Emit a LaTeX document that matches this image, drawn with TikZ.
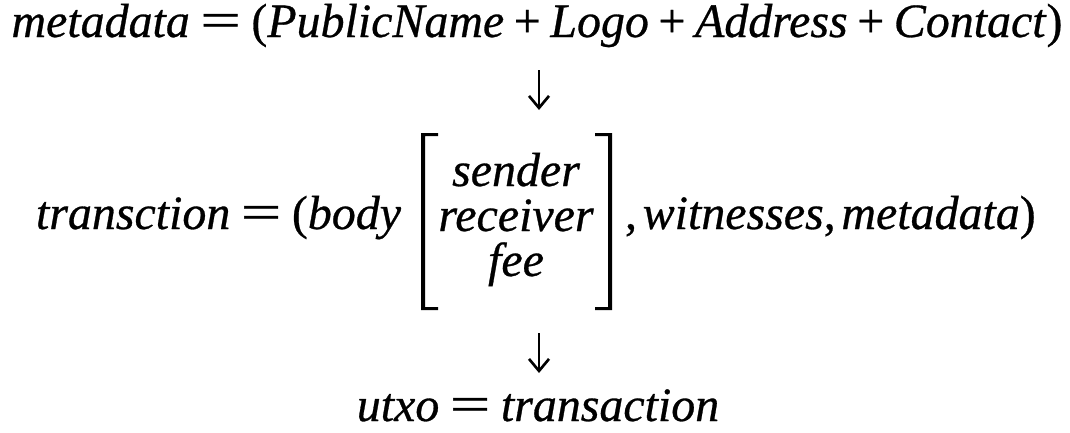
\documentclass[tikz,border=0pt]{standalone}
\usepackage{fontspec}
\setmainfont{Liberation Serif}[FakeBold=0.6]
\usetikzlibrary{arrows.meta}
\newlength\Lw
\newcommand\Eq{\hspace{0.22em}\textup{\scalebox{1.5}[1.05]{=}}\hspace{0.22em}}
\newcommand\Pl{\hspace{0.2em}\textup{+}\hspace{0.2em}}
\newcommand\LineOne{\itshape metadata\Eq\textup{(}PublicName\Pl Logo\Pl Address\Pl Contact\/\textup{)}}
\begin{document}
\settowidth\Lw{\fontsize{10pt}{12pt}\selectfont\LineOne}
\pgfmathsetmacro\fs{10*788.25/\Lw}
\pgfmathsetmacro\bs{1.2*\fs}
\begin{tikzpicture}[x=0.75pt,y=-0.75pt,
  txt/.style={inner sep=0pt,outer sep=0pt,text height=0.7em,text depth=0.2em,
    font=\fontsize{\fs pt}{\bs pt}\selectfont\itshape},
  arr/.style={line width=2pt,-{Straight Barb[length=9pt,width=15pt,line width=2pt]}}]
\useasboundingbox (0,0) rectangle (1070,432);
% line 1
\node[txt,anchor=base] (l1) at (537,37) {\LineOne};
% line 2
\node[txt,anchor=base east] (l2a) at (401,229) {transction\Eq\textup{(}body};
\node[txt,anchor=base] (r1) at (516,186) {sender};
\node[txt,anchor=base] (r2) at (516,231) {receiver};
\node[txt,anchor=base] (r3) at (516,276) {fee};
\node[txt,anchor=base west] (l2b) at (625,229) {\textup{,}\hspace{0.12em}witnesses\textup{,}\hspace{0.12em}metadata\/\textup{)}};
% brackets
\fill (421,133) -- (438,133) -- (438,136) -- (425,136) -- (425,307) -- (438,307) -- (438,310) -- (421,310) -- cycle;
\fill (612,133) -- (595,133) -- (595,136) -- (608,136) -- (608,307) -- (595,307) -- (595,310) -- (612,310) -- cycle;
% line 3
\node[txt,anchor=base] (l3) at (538,421) {utxo\Eq transaction};
% arrows
\coordinate (a1s) at (539,70);
\coordinate (a1e) at (539,110);
\coordinate (a2s) at (539,333);
\coordinate (a2e) at (539,373);
\draw[arr] (a1s) -- (a1e);
\draw[arr] (a2s) -- (a2e);
\end{tikzpicture}
\end{document}
